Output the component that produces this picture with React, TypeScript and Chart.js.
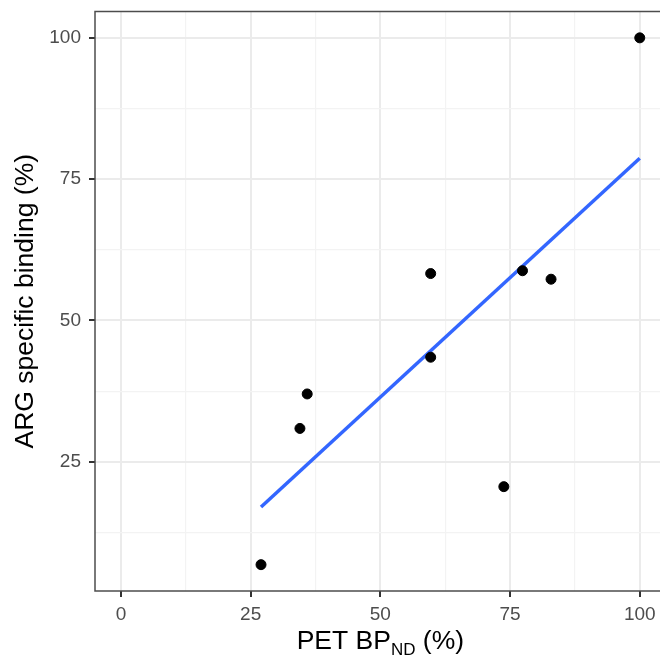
import React, { useEffect, useRef } from 'react';
import { Chart, registerables } from 'chart.js';

Chart.register(...registerables);

// Data
const petBP = [27.0, 34.5, 35.9, 59.7, 59.7, 73.8, 77.4, 82.9, 100.0];
const argBinding = [6.8, 30.9, 37.0, 58.3, 43.5, 20.6, 58.8, 57.3, 100.0];
const fitX = [27.0, 100.0];
const fitY = [17.0, 78.7];

const xTicks = [0, 12.5, 25, 37.5, 50, 62.5, 75, 87.5, 100];
const yTicks = [12.5, 25, 37.5, 50, 62.5, 75, 87.5, 100];

const xTitleMain = 'PET BP';
const xTitleSub = 'ND';
const xTitleEnd = ' (%)';
const yTitle = 'ARG specific binding (%)';

const FONT = '"Liberation Sans", Arial, Helvetica, sans-serif';

const isMajor = (v: number) => Math.abs(v % 25) < 1e-9;

const ggPlugin = {
  id: 'ggDecor',
  afterDraw(chart: any) {
    const { ctx, chartArea: a } = chart;
    ctx.save();
    // panel border
    ctx.strokeStyle = '#4d4d4d';
    ctx.lineWidth = 1.5;
    ctx.strokeRect(a.left, a.top, a.right - a.left, a.bottom - a.top);

    // x title with subscript
    const big = `26.5px ${FONT}`;
    const small = `17px ${FONT}`;
    ctx.fillStyle = '#000000';
    ctx.textBaseline = 'alphabetic';
    ctx.textAlign = 'left';
    ctx.font = big;
    const w1 = ctx.measureText(xTitleMain).width;
    const w3 = ctx.measureText(xTitleEnd).width;
    ctx.font = small;
    const w2 = ctx.measureText(xTitleSub).width;
    const total = w1 + w2 + w3;
    let x = (a.left + a.right) / 2 - total / 2;
    const base = a.bottom + 58.3;
    ctx.font = big;
    ctx.fillText(xTitleMain, x, base);
    x += w1;
    ctx.font = small;
    ctx.fillText(xTitleSub, x, base + 5.7);
    x += w2;
    ctx.font = big;
    ctx.fillText(xTitleEnd, x, base);

    // y title
    ctx.translate(a.left - 62, (a.top + a.bottom) / 2);
    ctx.rotate(-Math.PI / 2);
    ctx.textAlign = 'center';
    ctx.font = big;
    ctx.fillText(yTitle, 0, 0);
    ctx.restore();
  },
};

export default function App() {
  const ref = useRef<HTMLCanvasElement | null>(null);

  useEffect(() => {
    if (!ref.current) return;
    const chart = new Chart(ref.current, {
      type: 'scatter',
      data: {
        datasets: [
          {
            type: 'line',
            label: 'fit',
            data: fitX.map((v, i) => ({ x: v, y: fitY[i] })),
            borderColor: '#3366FF',
            borderWidth: 3.5,
            pointRadius: 0,
            fill: false,
            order: 2,
          } as any,
          {
            type: 'scatter',
            label: 'points',
            data: petBP.map((v, i) => ({ x: v, y: argBinding[i] })),
            backgroundColor: '#000000',
            borderColor: '#000000',
            borderWidth: 1,
            pointRadius: 5,
            order: 1,
          },
        ],
      },
      options: {
        animation: false,
        responsive: false,
        maintainAspectRatio: false,
        devicePixelRatio: 1,
        layout: { padding: { top: 11.5, left: 0, right: 14.3, bottom: 0 } },
        plugins: {
          legend: { display: false },
          tooltip: { enabled: false },
        },
        scales: {
          x: {
            type: 'linear',
            min: -5,
            max: 105,
            afterBuildTicks: (s: any) => {
              s.ticks = xTicks.map((v) => ({ value: v }));
            },
            afterFit: (s: any) => {
              s.height = 67;
              s.paddingLeft = 0;
              s.paddingRight = 0;
            },
            border: { display: false },
            grid: {
              color: (c: any) => (c.tick && isMajor(c.tick.value) ? '#EBEBEB' : '#F3F3F3'),
              lineWidth: (c: any) => (c.tick && isMajor(c.tick.value) ? 2 : 1.2),
              tickColor: (c: any) => (c.tick && isMajor(c.tick.value) ? '#333333' : 'rgba(0,0,0,0)'),
              tickWidth: 2,
              tickLength: 6,
            },
            ticks: {
              autoSkip: false,
              maxRotation: 0,
              color: '#4D4D4D',
              font: { family: FONT, size: 19 },
              padding: 6,
              callback: (v: any) => (isMajor(Number(v)) ? String(v) : ''),
            },
          },
          y: {
            type: 'linear',
            min: 2.14,
            max: 104.66,
            afterBuildTicks: (s: any) => {
              s.ticks = yTicks.map((v) => ({ value: v }));
            },
            afterFit: (s: any) => {
              s.width = 95;
              s.paddingTop = 0;
              s.paddingBottom = 0;
            },
            border: { display: false },
            grid: {
              color: (c: any) => (c.tick && isMajor(c.tick.value) ? '#EBEBEB' : '#F3F3F3'),
              lineWidth: (c: any) => (c.tick && isMajor(c.tick.value) ? 2 : 1.2),
              tickColor: (c: any) => (c.tick && isMajor(c.tick.value) ? '#333333' : 'rgba(0,0,0,0)'),
              tickWidth: 2,
              tickLength: 6,
            },
            ticks: {
              autoSkip: false,
              color: '#4D4D4D',
              font: { family: FONT, size: 19 },
              padding: 8,
              callback: (v: any) => (isMajor(Number(v)) ? String(v) : ''),
            },
          },
        },
      },
      plugins: [ggPlugin],
    });
    return () => chart.destroy();
  }, []);

  return (
    <div
      style={{
        position: 'absolute',
        left: 0,
        top: 0,
        width: 660,
        height: 658,
        overflow: 'hidden',
        background: '#ffffff',
      }}
    >
      <canvas ref={ref} width={680} height={658} style={{ width: 680, height: 658, display: 'block' }} />
    </div>
  );
}
